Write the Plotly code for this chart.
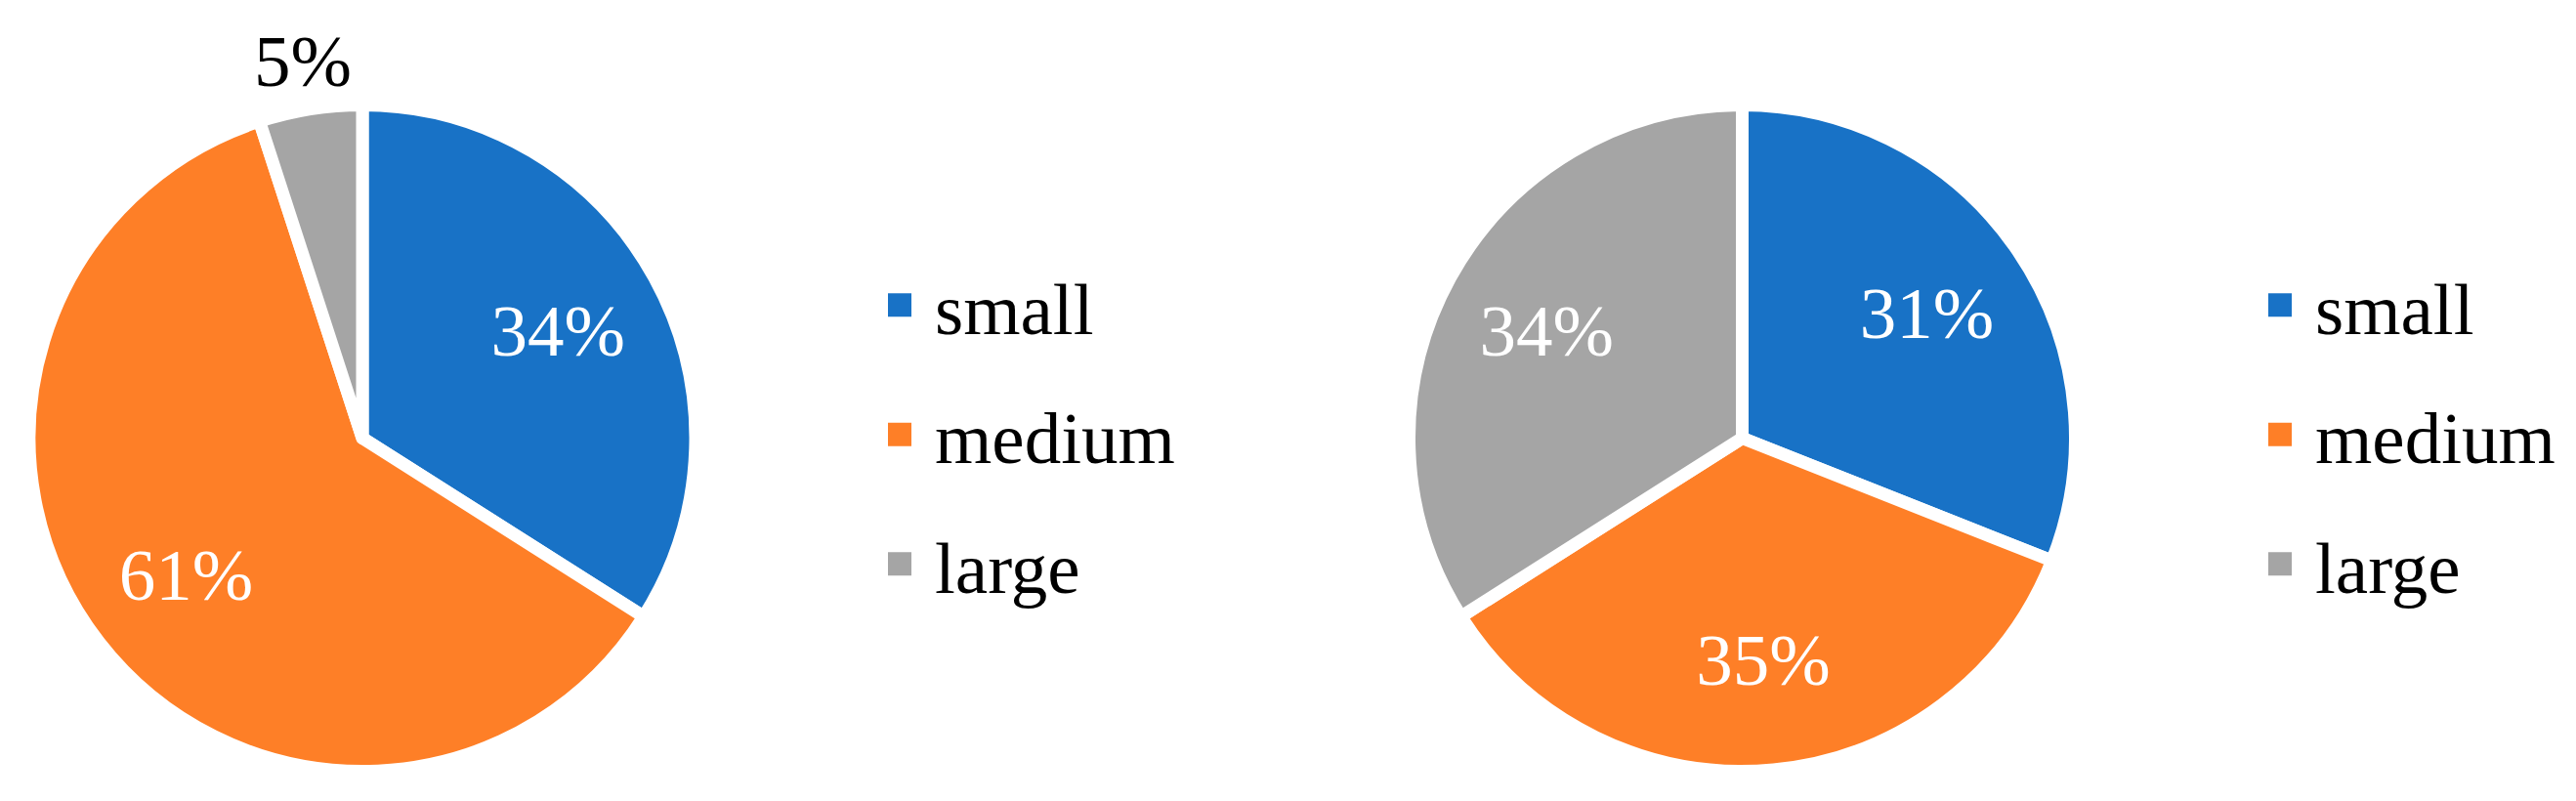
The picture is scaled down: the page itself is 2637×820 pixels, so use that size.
import math
import plotly.graph_objects as go

# ---- data ----
categories = ["small", "medium", "large"]
left_values = [34, 61, 5]
right_values = [31, 35, 34]
colors = ["#1872c6", "#fe7f27", "#a5a5a5"]
left_inside = ["inside", "inside", "none"]   # the small "large" slice is labelled outside
right_inside = ["inside", "inside", "inside"]

FONT = "Liberation Serif, Times New Roman, serif"
W, H = 2637, 820
FS = 75

# pie geometry (pixels)
CY = 448.5
R = 341          # plotly radius (white 13px outline eats ~6.5px)
LEFT_CX = 371
RIGHT_CX = 1783.5
YDOM = [1 - (CY + R) / H, 1 - (CY - R) / H]

fig = go.Figure()


def add_pie(values, inside_pos, cx):
    xdom = [(cx - R) / W, (cx + R) / W]
    # filled slices
    fig.add_trace(go.Pie(
        labels=categories, values=values, sort=False, direction="clockwise", rotation=0,
        marker=dict(colors=colors, line=dict(color="white", width=13)),
        textinfo="none", domain=dict(x=xdom, y=YDOM),
        showlegend=False, hoverinfo="label+percent",
    ))
    # transparent ring used only to place the percentage labels further out
    fig.add_trace(go.Pie(
        labels=categories, values=values, sort=False, direction="clockwise", rotation=0,
        hole=0.34,
        marker=dict(colors=["rgba(0,0,0,0)"] * len(values), line=dict(width=0)),
        texttemplate="%{percent:.0%}", textposition=inside_pos,
        insidetextorientation="horizontal",
        insidetextfont=dict(color="white", size=FS, family=FONT),
        domain=dict(x=xdom, y=YDOM),
        showlegend=False, hoverinfo="skip",
    ))


add_pie(left_values, left_inside, LEFT_CX)
add_pie(right_values, right_inside, RIGHT_CX)

# outside label for the small slice of the left pie (placed along its mid-angle)
total = sum(left_values)
start = sum(left_values[:2]) / total
frac = left_values[2] / total
mid = 2 * math.pi * (start + frac / 2)
dist = 391
ax = LEFT_CX + dist * math.sin(mid)
ay = CY - dist * math.cos(mid)
fig.add_annotation(
    x=ax / W, y=1 - ay / H, xref="paper", yref="paper",
    text=f"{round(100 * frac)}%", showarrow=False,
    xanchor="center", yanchor="middle",
    font=dict(family=FONT, size=FS, color="black"),
)

# legend entries (one per category, per legend)
for legend_name in ["legend", "legend2"]:
    for cat, col in zip(categories, colors):
        fig.add_trace(go.Scatter(
            x=[None], y=[None], mode="markers", name=cat,
            marker=dict(symbol="square", size=24, color=col),
            legend=legend_name, legendgroup=legend_name + cat,
            showlegend=True, hoverinfo="skip",
        ))

legend_common = dict(
    font=dict(family=FONT, size=FS, color="black"),
    traceorder="grouped", tracegroupgap=32, itemwidth=62,
    yanchor="top", xanchor="left", bgcolor="rgba(0,0,0,0)", borderwidth=0,
)

fig.update_layout(
    width=W, height=H,
    margin=dict(l=0, r=0, t=0, b=0),
    paper_bgcolor="white", plot_bgcolor="white",
    legend=dict(x=885 / W, y=1 - 257 / H, **legend_common),
    legend2=dict(x=2298 / W, y=1 - 257 / H, **legend_common),
    xaxis=dict(visible=False), yaxis=dict(visible=False),
)

post = """
document.body.style.margin = '0';
var gd = document.getElementById('{plot_id}');
function fixLegend(){
  gd.querySelectorAll('.legendpoints path.scatterpts').forEach(function(p){
    var t = p.getAttribute('transform') || '';
    if(t.indexOf('scale') < 0){ p.setAttribute('transform', t + ' scale(1.5)'); }
  });
}
fixLegend();
gd.on('plotly_afterplot', fixLegend);
"""

fig.write_html("out.html", post_script=post, config={"displayModeBar": False})
